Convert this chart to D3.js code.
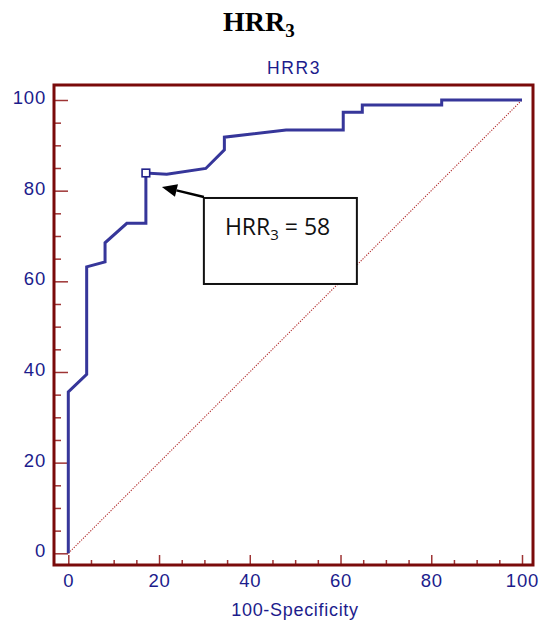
<!DOCTYPE html>
<html>
<head>
<meta charset="utf-8">
<script src="https://cdn.jsdelivr.net/npm/d3@7"></script>
<style>
  html, body { margin: 0; padding: 0; background: #fff; }
  svg { display: block; }
</style>
</head>
<body>
<svg id="chart" width="542" height="623"></svg>
<script>
// ROC curve for HRR3: 100-Specificity (x) vs Sensitivity (y)
const fpr = [0, 0, 4.05, 4.05, 8.1, 8.1, 12.9, 17.1, 17.1, 21.7, 30.3, 34.4, 34.4, 48.0, 60.6, 60.6, 64.8, 64.8, 82.3, 82.3, 100];
const tpr = [0, 35.6, 39.5, 63.2, 64.3, 68.5, 72.8, 72.8, 83.9, 83.6, 84.9, 89.0, 91.8, 93.4, 93.4, 97.3, 97.3, 98.9, 98.9, 100, 100];

// Optimal cut-off point (HRR3 = 58)
const cutoff = { fpr: 17.1, tpr: 83.9, label: "58" };

const majorTicks = [0, 20, 40, 60, 80, 100];
const minorTicks = d3.range(0, 101, 5).filter(v => v % 20 !== 0);

const svg = d3.select("#chart");
const frame = { left: 54, top: 85, right: 533, bottom: 565 };

const x = d3.scaleLinear().domain([0, 100]).range([68.3, 522]);
const y = d3.scaleLinear().domain([0, 100]).range([553.3, 100]);

const navy = "#1c1c8c";
const frameColor = "#7a0a0a";
const tickColor = "#9e3434";
const curveColor = "#36369a";

// Titles
const title = svg.append("text")
  .attr("x", 223).attr("y", 31)
  .attr("font-family", "'Liberation Serif', 'Times New Roman', serif")
  .attr("font-weight", "bold").attr("font-size", 28).attr("fill", "#000");
title.append("tspan").text("HRR");
title.append("tspan").attr("font-size", 19).attr("dy", 6).text("3");

svg.append("text")
  .attr("x", 294).attr("y", 74).attr("text-anchor", "middle")
  .attr("font-family", "'Liberation Sans', Arial, sans-serif")
  .attr("font-size", 17.5).attr("letter-spacing", 1.6).attr("fill", navy)
  .text("HRR3");

// Diagonal reference line
svg.append("line")
  .attr("x1", x(0)).attr("y1", y(0)).attr("x2", x(100)).attr("y2", y(100))
  .attr("stroke", "#b02a2a").attr("stroke-width", 1.1)
  .attr("stroke-dasharray", "1.2,1.4");

// Minor ticks
svg.append("g").attr("transform", `translate(${frame.left},0)`)
  .call(d3.axisLeft(y).tickValues(minorTicks).tickSize(-7).tickFormat(""))
  .call(g => g.select(".domain").remove())
  .call(g => g.selectAll("line").attr("stroke", tickColor).attr("stroke-width", 1.5));
svg.append("g").attr("transform", `translate(0,${frame.bottom})`)
  .call(d3.axisBottom(x).tickValues(minorTicks).tickSize(-5).tickFormat(""))
  .call(g => g.select(".domain").remove())
  .call(g => g.selectAll("line").attr("stroke", tickColor).attr("stroke-width", 1.5));

// Major ticks with labels
const yAxis = svg.append("g").attr("transform", `translate(${frame.left},0)`)
  .call(d3.axisLeft(y).tickValues(majorTicks).tickSize(-14).tickPadding(8))
  .call(g => g.select(".domain").remove());
yAxis.selectAll("line").attr("stroke", tickColor).attr("stroke-width", 1.5);
yAxis.selectAll("text")
  .attr("y", -2.5)
  .attr("font-family", "'Liberation Sans', Arial, sans-serif")
  .attr("font-size", 18.5).attr("letter-spacing", 0.8).attr("fill", navy);

const xAxis = svg.append("g").attr("transform", `translate(0,${frame.bottom})`)
  .call(d3.axisBottom(x).tickValues(majorTicks).tickSize(-10).tickPadding(9))
  .call(g => g.select(".domain").remove());
xAxis.selectAll("line").attr("stroke", tickColor).attr("stroke-width", 1.5);
xAxis.selectAll("text")
  .attr("font-family", "'Liberation Sans', Arial, sans-serif")
  .attr("font-size", 18.5).attr("letter-spacing", 0.8).attr("fill", navy);

svg.append("text")
  .attr("x", 295).attr("y", 616).attr("text-anchor", "middle")
  .attr("font-family", "'Liberation Sans', Arial, sans-serif")
  .attr("font-size", 18).attr("letter-spacing", 0.7).attr("fill", navy)
  .text("100-Specificity");

// Plot frame
svg.append("rect")
  .attr("x", frame.left).attr("y", frame.top)
  .attr("width", frame.right - frame.left).attr("height", frame.bottom - frame.top)
  .attr("fill", "none").attr("stroke", frameColor).attr("stroke-width", 3);

// ROC curve
const pts = fpr.map((d, i) => [d, tpr[i]]);
svg.append("path")
  .datum(pts)
  .attr("d", d3.line().x(d => x(d[0])).y(d => y(d[1])))
  .attr("fill", "none").attr("stroke", curveColor).attr("stroke-width", 3)
  .attr("stroke-linejoin", "miter");

// Cut-off marker
const cx = x(cutoff.fpr), cy = y(cutoff.tpr);
svg.append("rect")
  .attr("x", cx - 3.8).attr("y", cy - 3.8).attr("width", 7.6).attr("height", 7.6)
  .attr("fill", "#fff").attr("stroke", "#22228a").attr("stroke-width", 1.6);

// Annotation box and arrow
const box = { x: cx + 58, y: cy + 25, w: 153, h: 86 };
svg.append("rect")
  .attr("x", box.x).attr("y", box.y).attr("width", box.w).attr("height", box.h)
  .attr("fill", "#fff").attr("stroke", "#111").attr("stroke-width", 2);

const tip = [cx + 16, cy + 14];
const tail = [box.x, box.y - 1];
const ang = Math.atan2(tail[1] - tip[1], tail[0] - tip[0]);
const headLen = 15, headW = 6.5;
const base = [tip[0] + headLen * Math.cos(ang), tip[1] + headLen * Math.sin(ang)];
svg.append("line")
  .attr("x1", base[0]).attr("y1", base[1]).attr("x2", tail[0]).attr("y2", tail[1])
  .attr("stroke", "#000").attr("stroke-width", 2.4);
svg.append("path")
  .attr("d", `M${tip[0]},${tip[1]}` +
    `L${base[0] - headW * Math.sin(ang)},${base[1] + headW * Math.cos(ang)}` +
    `L${base[0] + headW * Math.sin(ang)},${base[1] - headW * Math.cos(ang)}Z`)
  .attr("fill", "#000");

const label = svg.append("text")
  .attr("x", box.x + 21).attr("y", box.y + 37)
  .attr("font-family", "'Open Sans', 'Noto Sans', sans-serif")
  .attr("font-size", 23).attr("fill", "#111");
label.append("tspan").text("HRR");
label.append("tspan").attr("font-size", 15).attr("dy", 5).text("3");
label.append("tspan").attr("dy", -5).text(" = " + cutoff.label);
</script>
</body>
</html>
